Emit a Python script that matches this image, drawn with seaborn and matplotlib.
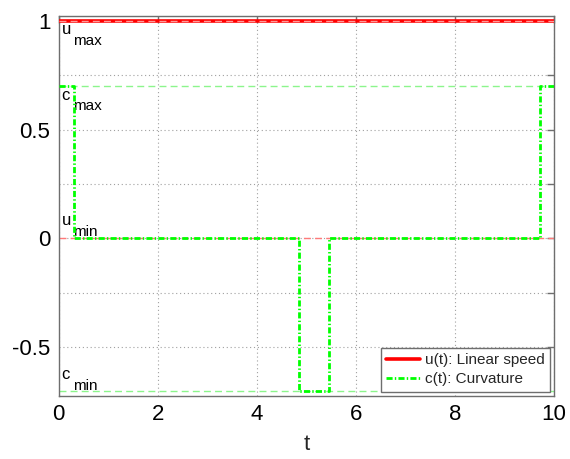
import matplotlib
matplotlib.use("Agg")
import matplotlib.pyplot as plt
import seaborn as sns
import pandas as pd

# Control profile data
t_speed = [0.0, 10.0]
u_speed = [1.0, 1.0]

t_curv = [0.0, 0.3, 4.86, 5.46, 9.72, 10.0]
c_curv = [0.7, 0.0, -0.7, 0.0, 0.7, 0.7]

u_max, u_min = 1.0, 0.0
c_max, c_min = 0.7, -0.7

x_ticks = [0, 2, 4, 6, 8, 10]
y_ticks = [-0.5, -0.25, 0, 0.25, 0.5, 0.75, 1]
y_tick_labels = ["-0.5", "", "0", "", "0.5", "", "1"]

sns.set_style("white")
plt.rcParams["font.family"] = ["Liberation Sans", "DejaVu Sans"]

fig = plt.figure(figsize=(5.7, 4.59), dpi=100)
ax = fig.add_axes([0.103, 0.137, 0.869, 0.829])

speed_df = pd.DataFrame({"t": t_speed, "u": u_speed})
curv_df = pd.DataFrame({"t": t_curv, "c": c_curv})

sns.lineplot(data=speed_df, x="t", y="u", ax=ax, color="#ff0000", lw=2.6,
             estimator=None, label="u(t): Linear speed", zorder=3)

# Bound lines
ax.axhline(u_max, color="#ff9a9a", lw=1.0, ls=(0, (5, 3)), zorder=4)
ax.axhline(u_min, color="#ff7a7a", lw=1.0, ls=(0, (5, 3)), zorder=2)
ax.axhline(c_max, color="#8cf58c", lw=1.0, ls=(0, (5, 3)), zorder=2)
ax.axhline(c_min, color="#8cf58c", lw=1.0, ls=(0, (5, 3)), zorder=2)

sns.lineplot(data=curv_df, x="t", y="c", ax=ax, color="#00ff00", lw=2.0,
             estimator=None, drawstyle="steps-post", dashes=False,
             label="c(t): Curvature", zorder=5)
for ln in ax.get_lines():
    if ln.get_label() == "c(t): Curvature":
        ln.set_dashes((2.2, 0.8, 0.5, 0.8))

# Bound annotations
def bound_label(main, sub, y):
    ax.text(0.06, y, main, fontsize=12, ha="left", va="center", color="black")
    ax.text(0.28, y - 0.052, sub, fontsize=11, ha="left", va="center", color="black")

bound_label("u", "max", u_max - 0.041)
bound_label("c", "max", c_max - 0.041)
bound_label("u", "min", u_min + 0.084)
bound_label("c", "min", c_min + 0.074)

ax.set_xlim(0, 10)
ax.set_ylim(-0.725, 1.025)
ax.set_xticks(x_ticks)
ax.set_xticklabels([str(v) for v in x_ticks])
ax.set_yticks(y_ticks)
ax.set_yticklabels(y_tick_labels)
ax.set_xlabel("t", fontsize=16, labelpad=6)
ax.set_ylabel("")

ax.grid(True, ls=(0, (1, 2.5)), color="#a0a0a0", lw=0.8)
for s in ax.spines.values():
    s.set_color("#6e6e6e")
    s.set_linewidth(1.0)
    s.set_visible(True)
ax.tick_params(axis="both", which="both", direction="in", length=5, width=1,
               color="#6e6e6e", labelsize=16, labelcolor="black",
               top=True, right=True, pad=6)

leg = ax.legend(loc="lower right", fontsize=11, handlelength=2.2,
                handletextpad=0.3, labelspacing=0.35, borderaxespad=0.28,
                borderpad=0.35, fancybox=False, framealpha=1)
leg.get_frame().set_edgecolor("#6e6e6e")
leg.get_frame().set_linewidth(1.0)

fig.savefig("out.png", dpi=100)
